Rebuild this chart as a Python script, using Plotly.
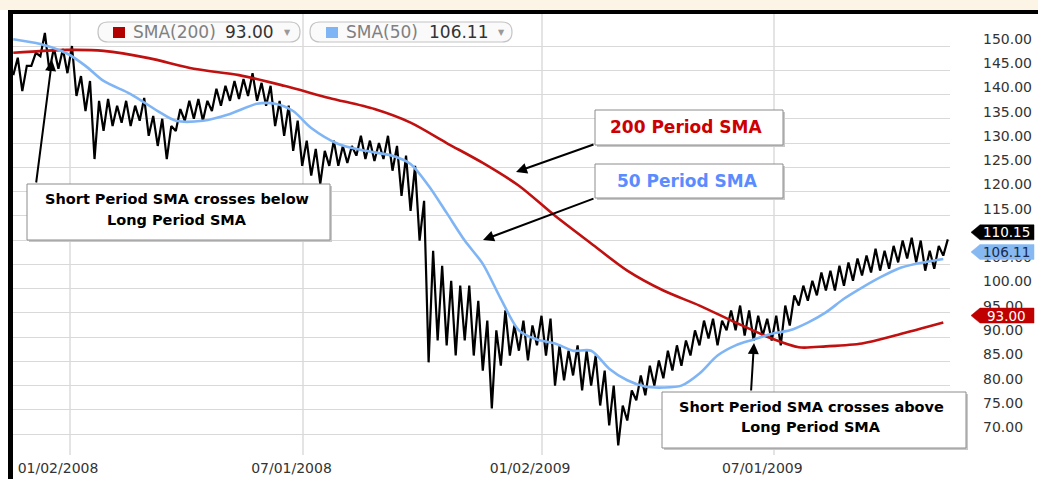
import plotly.graph_objects as go
import pandas as pd

# ---------------- data ----------------
week_start = "2007-11-19"
n_weeks = 104
price_high = [147.6, 145.9, 148.6, 152.7, 149.6, 149.4, 150.0, 143.8, 142.8, 138.7,
              139.1, 137.7, 138.7, 137.7, 139.3, 135.6, 135.0, 133.5, 137.0, 138.7,
              139.1, 138.7, 141.2, 141.8, 142.8, 143.2, 144.4, 142.4, 141.8, 138.7,
              137.7, 134.6, 130.5, 128.8, 128.4, 130.5, 129.4, 129.4, 131.5, 130.5,
              130.0, 131.5, 129.4, 127.4, 125.3, 118.1, 107.8, 104.7, 101.6, 100.6,
              100.6, 97.5, 93.4, 91.4, 95.5, 92.4, 93.4, 92.4, 94.4, 93.8,
              88.3, 87.2, 88.3, 87.2, 86.2, 83.1, 80.0, 75.9, 79.0, 82.1,
              84.1, 85.2, 87.2, 88.3, 89.3, 91.4, 93.4, 93.8, 93.4, 95.5,
              96.5, 95.5, 94.4, 93.8, 94.4, 96.5, 98.6, 100.6, 101.6, 103.3,
              103.7, 104.7, 105.4, 106.2, 106.8, 108.2, 107.8, 108.8, 109.9, 110.5,
              109.9, 107.8, 108.8, 110.15]
price_low = [144.0, 140.7, 145.9, 147.9, 144.9, 145.3, 144.4, 139.7, 136.6, 126.7,
             132.5, 133.5, 134.2, 133.5, 134.6, 131.5, 129.4, 126.7, 132.5, 134.6,
             135.0, 134.6, 136.6, 137.7, 138.7, 139.1, 139.7, 138.7, 137.7, 133.5,
             131.5, 128.4, 125.3, 123.3, 121.6, 125.3, 125.3, 125.9, 127.4, 126.7,
             126.3, 126.7, 124.3, 119.1, 116.0, 109.9, 84.8, 89.3, 88.3, 86.2,
             89.3, 86.2, 83.1, 75.3, 84.1, 86.2, 87.2, 85.2, 88.3, 86.2,
             80.0, 81.1, 82.1, 79.0, 80.0, 75.9, 71.8, 67.7, 72.8, 77.0,
             78.0, 80.0, 81.5, 83.1, 84.1, 86.2, 88.3, 89.7, 88.3, 91.4,
             91.4, 90.3, 89.3, 90.3, 89.3, 88.3, 92.4, 96.5, 97.5, 98.6,
             99.6, 99.6, 100.6, 101.6, 102.7, 103.3, 103.7, 104.1, 105.4, 106.2,
             105.4, 103.7, 104.1, 106.8]

sma200_week = [0, 6, 10, 15, 20, 25, 30, 35, 40, 44, 48, 52, 56, 60, 64, 68, 72,
               76, 80, 84, 87, 90, 94, 98, 103]
sma200_vals = [148.6, 149.2, 149.0, 147.5, 145.3, 144.0, 141.8, 139.3, 137.0, 134.2,
               130.0, 125.9, 121.2, 115.0, 109.3, 103.7, 99.6, 96.5, 93.0, 89.7,
               87.9, 88.1, 88.7, 90.5, 93.0]

sma50_week = [0, 3, 6, 8, 10, 13, 16, 18, 21, 24, 27, 29, 31, 33, 36, 39, 42, 44,
              46, 48, 50, 52, 54, 56, 58, 60, 62, 64, 66, 68, 70, 72, 74, 76, 78,
              80, 82, 84, 86, 88, 90, 92, 94, 96, 98, 100, 103]
sma50_vals = [151.4, 150.4, 148.4, 145.9, 142.8, 140.1, 136.6, 134.6, 134.6, 136.0,
              138.1, 138.1, 136.6, 133.1, 129.8, 128.4, 127.4, 125.7, 121.2, 115.6,
              109.9, 105.1, 97.9, 91.4, 89.5, 88.7, 87.2, 87.2, 83.5, 81.1,
              79.8, 79.6, 80.0, 82.5, 86.2, 88.3, 89.5, 90.7, 91.4, 93.0,
              95.1, 97.9, 100.2, 102.3, 104.1, 105.1, 106.11]

tick_dates = ["2008-01-02", "2008-07-01", "2009-01-02", "2009-07-01"]
tick_labels = ["01/02/2008", "07/01/2008", "01/02/2009", "07/01/2009"]
y_ticks = list(range(70, 151, 5))
last_price = 110.15
last_sma200 = 93.00
last_sma50 = 106.11

# ---------------- layout geometry ----------------
W, H = 1038, 479
ML, MR, MT, MB = 13, 88, 14, 24
PW, PH = W - ML - MR, H - MT - MB
YMIN, YMAX = 65.7, 156.6
X0 = pd.Timestamp("2007-11-18 19:00")
X1 = pd.Timestamp("2009-11-14 05:00")


def px(x):
    return (x - ML) / PW


def py(y):
    return (H - MB - y) / PH


def vy(v):
    return MT + (YMAX - v) / (YMAX - YMIN) * PH


weeks = pd.date_range(week_start, periods=n_weeks, freq="7D")
zz_x, zz_y = [], []
for d, hi, lo in zip(weeks, price_high, price_low):
    zz_x += [d, d + pd.Timedelta(hours=84)]
    zz_y += [lo, hi]

fig = go.Figure()
fig.add_trace(go.Scatter(x=zz_x, y=zz_y, mode="lines",
                         line=dict(color="black", width=2.2), hoverinfo="skip"))
fig.add_trace(go.Scatter(x=[weeks[i] for i in sma200_week], y=sma200_vals, mode="lines",
                         line=dict(color="#c01010", width=2.6, shape="spline", smoothing=0.8)))
fig.add_trace(go.Scatter(x=[weeks[i] for i in sma50_week], y=sma50_vals, mode="lines",
                         line=dict(color="#7fb5f5", width=2.6, shape="spline", smoothing=0.8)))

shapes = []
annots = []


def rect(x0, y0, x1, y1, fill, line_color=None, lw=0):
    shapes.append(dict(type="rect", xref="paper", yref="paper",
                       x0=px(x0), x1=px(x1), y0=py(y1), y1=py(y0),
                       fillcolor=fill, line=dict(color=line_color or fill, width=lw),
                       layer="above"))


def path_shape(points, fill, line_color, lw=1):
    shapes.append(dict(type="path", xref="paper", yref="paper", path=points,
                       fillcolor=fill, line=dict(color=line_color, width=lw), layer="above"))


def P(x, y):
    return f"{px(x)},{py(y)}"


def pill(x0, y0, x1, y1, r):
    p = (f"M{P(x0 + r, y0)} L{P(x1 - r, y0)} Q{P(x1, y0)} {P(x1, y0 + r)} "
         f"L{P(x1, y1 - r)} Q{P(x1, y1)} {P(x1 - r, y1)} L{P(x0 + r, y1)} "
         f"Q{P(x0, y1)} {P(x0, y1 - r)} L{P(x0, y0 + r)} Q{P(x0, y0)} {P(x0 + r, y0)} Z")
    path_shape(p, "#fafafa", "#c4c4c4", 1.2)


def text(x, y, s, size, color, bold=False, anchor="center", family="DejaVu Sans"):
    annots.append(dict(xref="paper", yref="paper", x=px(x), y=py(y), text=s,
                       showarrow=False, xanchor=anchor, yanchor="middle",
                       font=dict(family=family, size=size, color=color,
                                 weight="bold" if bold else "normal")))


def arrow(tip, tail):
    annots.append(dict(xref="paper", yref="paper", x=px(tip[0]), y=py(tip[1]),
                       ax=tail[0] - tip[0], ay=tail[1] - tip[1], text="",
                       showarrow=True, arrowhead=2, arrowsize=1.1, arrowwidth=2,
                       arrowcolor="black", standoff=0))


def tag(v, label, fill, fg):
    yc = vy(v) - 7
    xl, xr, hh = 971, 1034, 7.5
    p = (f"M{P(xl, yc)} L{P(xl + 9, yc - hh)} L{P(xr, yc - hh)} "
         f"L{P(xr, yc + hh)} L{P(xl + 9, yc + hh)} Z")
    path_shape(p, fill, fill, 0.5)
    text(1007, yc, label, 13.5, fg)


def box(x0, y0, x1, y1):
    rect(x0 + 2, y0 + 2, x1 + 2, y1 + 2, "#c8c8c8")
    rect(x0, y0, x1, y1, "white", "#8c8c8c", 1)


# frame and background strip
rect(0, 0, W, 10, "#fcf4e4")
rect(8, 10, W, 14, "black")
rect(8, 10, 13, H, "black")

# legend pills
pill(98, 22, 300, 42, 10)
rect(113, 27, 125, 38, "#b30000")
text(131, 32, "SMA(200)", 17, "#808080", anchor="left")
text(223, 32, f"{last_sma200:.2f}", 17, "#333333", anchor="left")
text(287, 33, "▼", 8, "#999999")
pill(310, 22, 512, 42, 10)
rect(326, 27, 338, 38, "#7fb5f5")
text(344, 32, "SMA(50)", 17, "#808080", anchor="left")
text(427, 32, f"{last_sma50:.2f}", 17, "#333333", anchor="left")
text(502, 33, "▼", 8, "#999999")

# annotation boxes
box(27, 184, 330, 240)
text(177, 199, "Short Period SMA crosses below", 14.5, "black", bold=True)
text(177, 220, "Long Period SMA", 14.5, "black", bold=True)
arrow((52, 60), (36, 184))

box(595, 110, 783, 145)
text(686, 127, "200 Period SMA", 17, "#cc0000", bold=True)
arrow((516, 172), (595, 144))

box(595, 164, 783, 198)
text(687, 181, "50 Period SMA", 17, "#5b8cff", bold=True)
arrow((483, 240), (595, 198))

box(662, 392, 966, 448)
text(811, 407, "Short Period SMA crosses above", 14.5, "black", bold=True)
text(811, 427, "Long Period SMA", 14.5, "black", bold=True)
arrow((754, 343), (751, 392))

# value tags on the right axis
tag(last_price, f"{last_price:.2f}", "#000000", "white")
tag(last_sma50, f"{last_sma50:.2f}", "#86b8f2", "#1a2a4a")
tag(last_sma200, f"{last_sma200:.2f}", "#c00000", "white")

fig.update_layout(
    width=W, height=H,
    margin=dict(l=ML, r=MR, t=MT, b=MB, pad=0),
    paper_bgcolor="white", plot_bgcolor="white",
    showlegend=False,
    shapes=shapes, annotations=annots,
    xaxis=dict(type="date", range=[X0, X1], tickvals=tick_dates, ticktext=tick_labels,
               showgrid=True, gridcolor="#e4e4e4", gridwidth=2, zeroline=False,
               showline=False, ticks="", ticklabelshift=-12, ticklabelstandoff=3,
               automargin=False,
               tickfont=dict(family="DejaVu Sans", size=14, color="#333333")),
    yaxis=dict(side="right", range=[YMIN, YMAX], tickvals=y_ticks,
               ticktext=["" if v == 110 else f"{v:.2f}" for v in y_ticks],
               showgrid=True, gridcolor="#d9d9d9", gridwidth=1, zeroline=False,
               showline=False, ticks="", ticklabelshift=-7, ticklabelstandoff=32,
               automargin=False,
               tickfont=dict(family="DejaVu Sans", size=14, color="#333333")),
)

fig.write_html("out.html", post_script="document.body.style.margin='0px';",
               config={"displayModeBar": False})
